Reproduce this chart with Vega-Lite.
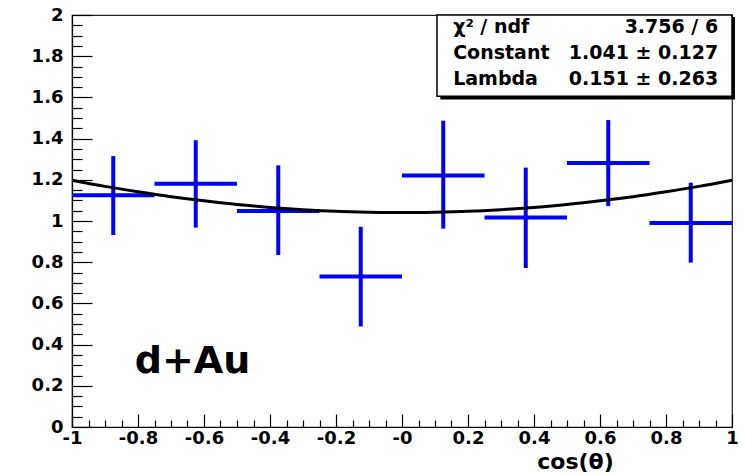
{
  "$schema": "https://vega.github.io/schema/vega-lite/v6.json",
  "width": 660,
  "height": 412,
  "autosize": "none",
  "padding": {"left": 72, "top": 15, "right": 13, "bottom": 48},
  "background": "white",
  "config": {
    "view": {"stroke": "#222", "strokeWidth": 1.2},
    "font": "DejaVu Sans",
    "axis": {"labelFont": "DejaVu Sans", "labelFontWeight": "bold", "labelFontSize": 18, "labelColor": "black", "tickColor": "black", "domainColor": "black", "grid": false}
  },
  "datasets": {
    "pts": [
      {"c": -0.875, "lo": -1.0, "hi": -0.75, "v": 1.125, "elo": 0.932, "ehi": 1.315},
      {"c": -0.625, "lo": -0.75, "hi": -0.5, "v": 1.181, "elo": 0.968, "ehi": 1.392},
      {"c": -0.375, "lo": -0.5, "hi": -0.25, "v": 1.049, "elo": 0.835, "ehi": 1.27},
      {"c": -0.125, "lo": -0.25, "hi": 0.0, "v": 0.73, "elo": 0.488, "ehi": 0.972},
      {"c": 0.125, "lo": 0.0, "hi": 0.25, "v": 1.221, "elo": 0.963, "ehi": 1.487},
      {"c": 0.375, "lo": 0.25, "hi": 0.5, "v": 1.017, "elo": 0.772, "ehi": 1.259},
      {"c": 0.625, "lo": 0.5, "hi": 0.75, "v": 1.281, "elo": 1.072, "ehi": 1.49},
      {"c": 0.875, "lo": 0.75, "hi": 1.0, "v": 0.99, "elo": 0.798, "ehi": 1.186}
    ],
    "fit": [
      {"x": -1.0, "y": 1.198}, {"x": -0.9, "y": 1.168}, {"x": -0.8, "y": 1.142}, {"x": -0.7, "y": 1.118},
      {"x": -0.6, "y": 1.098}, {"x": -0.5, "y": 1.080}, {"x": -0.4, "y": 1.066}, {"x": -0.3, "y": 1.055},
      {"x": -0.2, "y": 1.047}, {"x": -0.1, "y": 1.043}, {"x": 0.0, "y": 1.041}, {"x": 0.1, "y": 1.043},
      {"x": 0.2, "y": 1.047}, {"x": 0.3, "y": 1.055}, {"x": 0.4, "y": 1.066}, {"x": 0.5, "y": 1.080},
      {"x": 0.6, "y": 1.098}, {"x": 0.7, "y": 1.118}, {"x": 0.8, "y": 1.142}, {"x": 0.9, "y": 1.168},
      {"x": 1.0, "y": 1.198}
    ],
    "stats": [
      {"row": 1, "name": "χ² / ndf", "val": "3.756 / 6"},
      {"row": 2, "name": "Constant", "val": "1.041 ± 0.127"},
      {"row": 3, "name": "Lambda", "val": "0.151 ± 0.263"}
    ]
  },
  "resolve": {"axis": {"x": "independent", "y": "independent"}},
  "layer": [
    {
      "data": {"name": "pts"},
      "mark": {"type": "rule", "color": "#0000ff", "strokeWidth": 4},
      "encoding": {
        "x": {"field": "c", "type": "quantitative",
          "scale": {"domain": [-1, 1], "nice": false, "zero": false},
          "axis": {"orient": "bottom", "values": [-1, -0.8, -0.6, -0.4, -0.2, 0, 0.2, 0.4, 0.6, 0.8, 1],
            "tickSize": -13, "tickWidth": 1.2, "domain": true, "domainWidth": 1.2, "labelPadding": 15,
            "labelExpr": "datum.value == 0 ? '-0' : (datum.value < 0 ? '-' + format(-datum.value, '~g') : format(datum.value, '~g'))",
            "labelFlush": false, "labelOverlap": false,
            "title": "cos(θ)", "titleFont": "DejaVu Sans", "titleFontWeight": "bold", "titleFontSize": 22,
            "titleX": 503, "titleY": 41, "titleBaseline": "alphabetic", "titleAlign": "center", "titleAnchor": null}},
        "y": {"field": "elo", "type": "quantitative",
          "scale": {"domain": [0, 2], "nice": false, "zero": false},
          "axis": {"orient": "left", "values": [0, 0.2, 0.4, 0.6, 0.8, 1, 1.2, 1.4, 1.6, 1.8, 2],
            "tickSize": -20, "tickWidth": 1.2, "domain": true, "domainWidth": 1.2, "labelPadding": 29,
            "format": "~g", "labelFlush": false, "labelOverlap": false, "title": null}},
        "y2": {"field": "ehi"}
      }
    },
    {
      "data": {"name": "pts"},
      "mark": {"type": "rule", "color": "#0000ff", "strokeWidth": 4},
      "encoding": {
        "x": {"field": "lo", "type": "quantitative",
          "axis": {"orient": "bottom", "values": [-0.95, -0.9, -0.85, -0.75, -0.7, -0.65, -0.55, -0.5, -0.45, -0.35, -0.3, -0.25, -0.15, -0.1, -0.05, 0.05, 0.1, 0.15, 0.25, 0.3, 0.35, 0.45, 0.5, 0.55, 0.65, 0.7, 0.75, 0.85, 0.9, 0.95],
            "tickSize": -7, "tickWidth": 1.2, "domain": false, "labels": false, "title": null}},
        "x2": {"field": "hi"},
        "y": {"field": "v", "type": "quantitative",
          "axis": {"orient": "left", "values": [0.05, 0.1, 0.15, 0.25, 0.3, 0.35, 0.45, 0.5, 0.55, 0.65, 0.7, 0.75, 0.85, 0.9, 0.95, 1.05, 1.1, 1.15, 1.25, 1.3, 1.35, 1.45, 1.5, 1.55, 1.65, 1.7, 1.75, 1.85, 1.9, 1.95],
            "tickSize": -10, "tickWidth": 1.2, "domain": false, "labels": false, "title": null}}
      }
    },
    {
      "data": {"name": "fit"},
      "mark": {"type": "line", "color": "black", "strokeWidth": 3, "interpolate": "monotone"},
      "encoding": {
        "x": {"field": "x", "type": "quantitative", "axis": null},
        "y": {"field": "y", "type": "quantitative", "axis": null}
      }
    },
    {
      "data": {"values": [{}]},
      "mark": {"type": "text", "font": "DejaVu Sans", "fontWeight": "bold", "fontSize": 38, "align": "left", "baseline": "alphabetic", "color": "black"},
      "encoding": {
        "x": {"datum": -0.81, "type": "quantitative", "axis": null},
        "y": {"datum": 0.263, "type": "quantitative", "axis": null},
        "text": {"value": "d+Au"}
      }
    },
    {
      "data": {"values": [{}]},
      "mark": {"type": "rect", "fill": "black", "clip": false},
      "encoding": {
        "x": {"datum": 0.116, "type": "quantitative", "axis": null},
        "x2": {"datum": 1.009},
        "y": {"datum": 1.59, "type": "quantitative", "axis": null},
        "y2": {"datum": 1.99}
      }
    },
    {
      "data": {"values": [{}]},
      "mark": {"type": "rect", "fill": "white", "stroke": "black", "strokeWidth": 1.5},
      "encoding": {
        "x": {"datum": 0.106, "type": "quantitative", "axis": null},
        "x2": {"datum": 1.0},
        "y": {"datum": 1.606, "type": "quantitative", "axis": null},
        "y2": {"datum": 2.0}
      }
    },
    {
      "data": {"name": "stats"},
      "transform": [{"calculate": "datum.row == 1 ? 1.912 : (datum.row == 2 ? 1.786 : 1.659)", "as": "ty"}],
      "mark": {"type": "text", "font": "DejaVu Sans", "fontWeight": "bold", "fontSize": 19, "align": "left", "baseline": "alphabetic", "color": "black"},
      "encoding": {
        "x": {"datum": 0.155, "type": "quantitative", "axis": null},
        "y": {"field": "ty", "type": "quantitative", "axis": null},
        "text": {"field": "name"}
      }
    },
    {
      "data": {"name": "stats"},
      "transform": [{"calculate": "datum.row == 1 ? 1.912 : (datum.row == 2 ? 1.786 : 1.659)", "as": "ty"}],
      "mark": {"type": "text", "font": "DejaVu Sans", "fontWeight": "bold", "fontSize": 19, "align": "right", "baseline": "alphabetic", "color": "black"},
      "encoding": {
        "x": {"datum": 0.958, "type": "quantitative", "axis": null},
        "y": {"field": "ty", "type": "quantitative", "axis": null},
        "text": {"field": "val"}
      }
    }
  ]
}
